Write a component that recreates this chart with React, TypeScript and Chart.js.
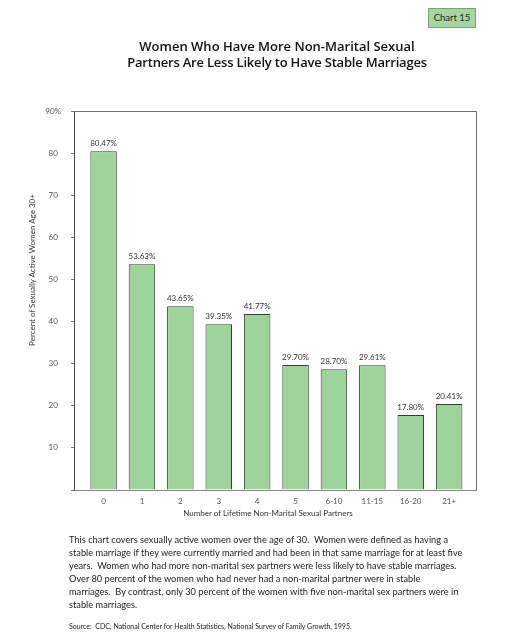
import React, { useEffect, useRef } from "react";
import { Chart, registerables } from "chart.js";

Chart.register(...registerables);

const partnerGroups = ["0", "1", "2", "3", "4", "5", "6-10", "11-15", "16-20", "21+"];
const stableShare = [80.47, 53.63, 43.65, 39.35, 41.77, 29.7, 28.7, 29.61, 17.8, 20.41];
const yTickValues = [10, 20, 30, 40, 50, 60, 70, 80, 90];

const titleLines = [
  "Women Who Have More Non-Marital Sexual",
  "Partners Are Less Likely to Have Stable Marriages",
];
const bodyLines = [
  "This chart covers sexually active women over the age of 30.  Women were defined as having a",
  "stable marriage if they were currently married and had been in that same marriage for at least five",
  "years.  Women who had more non-marital sex partners were less likely to have stable marriages.",
  "Over 80 percent of the women who had never had a non-marital partner were in stable",
  "marriages.  By contrast, only 30 percent of the women with five non-marital sex partners were in",
  "stable marriages.",
];
const sourceLine =
  "Source:  CDC, National Center for Health Statistics, National Survey of Family Growth, 1995.";

const FONT = "Lato, 'Liberation Sans', sans-serif";

// Draws the top and right frame lines plus the percentage labels over each bar.
const framePlugin = {
  id: "frameAndLabels",
  afterDatasetsDraw(chart: any) {
    const { ctx, chartArea } = chart;
    ctx.save();
    ctx.strokeStyle = "#6e6e6e";
    ctx.lineWidth = 1;
    ctx.beginPath();
    ctx.moveTo(chartArea.left, chartArea.top + 0.5);
    ctx.lineTo(chartArea.right + 0.5, chartArea.top + 0.5);
    ctx.lineTo(chartArea.right + 0.5, chartArea.bottom);
    ctx.stroke();

    const meta = chart.getDatasetMeta(0);
    ctx.fillStyle = "#333";
    ctx.font = `8px ${FONT}`;
    ctx.textAlign = "center";
    ctx.textBaseline = "bottom";
    meta.data.forEach((bar: any, i: number) => {
      ctx.fillText(stableShare[i].toFixed(2) + "%", bar.x, bar.y - 4);
    });
    ctx.restore();
  },
};

export default function App() {
  const canvasRef = useRef<HTMLCanvasElement | null>(null);

  useEffect(() => {
    if (!canvasRef.current) return;
    const chart = new Chart(canvasRef.current, {
      type: "bar",
      data: {
        datasets: [
          {
            data: stableShare.map((v, i) => ({ x: i, y: v })),
            backgroundColor: "#9fd39c",
            borderColor: "#3a3a3a",
            borderWidth: { left: 1, top: 1, right: 1, bottom: 0 },
            borderSkipped: false,
            barPercentage: 0.69,
            categoryPercentage: 1,
          },
        ],
      },
      options: {
        responsive: false,
        animation: false,
        devicePixelRatio: 1,
        layout: { padding: { top: 111, right: 38, bottom: 0, left: 0 } },
        plugins: { legend: { display: false }, tooltip: { enabled: false }, title: { display: false } },
        scales: {
          x: {
            type: "linear",
            offset: false,
            min: -0.77,
            max: 9.7,
            afterFit(scale: any) {
              scale.height = 150;
            },
            afterBuildTicks(scale: any) {
              scale.ticks = partnerGroups.map((_, i) => ({ value: i }));
            },
            border: { display: true, color: "#8a8a8a", width: 1 },
            grid: { display: false, drawTicks: false, offset: false },
            ticks: {
              autoSkip: false,
              maxRotation: 0,
              padding: 7,
              color: "#555",
              font: { family: FONT, size: 8 },
              callback: (v: any) => partnerGroups[Math.round(Number(v))] ?? "",
            },
          },
          y: {
            min: 0,
            max: 90,
            afterFit(scale: any) {
              scale.width = 74;
            },
            afterBuildTicks(scale: any) {
              scale.ticks = [{ value: 0 }, ...yTickValues.map((v) => ({ value: v }))];
            },
            border: { display: true, color: "#4a4a4a", width: 1 },
            grid: { drawOnChartArea: false, drawTicks: true, tickLength: 3, color: "#777" },
            ticks: {
              padding: 10,
              crossAlign: "center",
              color: "#555",
              font: { family: FONT, size: 8 },
              callback: (v: any) => (v === 0 ? "" : v === 90 ? "90%" : String(v)),
            },
          },
        },
      },
      plugins: [framePlugin],
    } as any);
    return () => chart.destroy();
  }, []);

  return (
    <div style={{ position: "absolute", left: 0, top: 0, width: 514, height: 640, background: "#fff", overflow: "hidden", fontFamily: FONT }}>
      <canvas ref={canvasRef} width={514} height={640} style={{ position: "absolute", left: 0, top: 0, width: 514, height: 640 }} />
      <div
        style={{
          position: "absolute", left: 428, top: 8, width: 46, height: 18,
          background: "#a6d6a3", border: "1px solid #7f9f7d", color: "#1f2a1f",
          fontSize: 9.5, lineHeight: "18px", textAlign: "center",
        }}
      >
        Chart 15
      </div>
      {titleLines.map((t, i) => (
        <div
          key={i}
          style={{
            position: "absolute", left: 0, width: 554, top: 38 + i * 16, lineHeight: "16px",
            textAlign: "center", fontFamily: "'Open Sans', sans-serif", fontWeight: 600, fontSize: 13,
            color: "#111", letterSpacing: i === 1 ? -0.2 : 0,
          }}
        >
          {t}
        </div>
      ))}
      <div
        style={{
          position: "absolute", left: 32 - 100, top: 270 - 5, width: 200, height: 10, lineHeight: "10px",
          textAlign: "center", fontSize: 8, color: "#333", transform: "rotate(-90deg)", whiteSpace: "nowrap",
        }}
      >
        Percent of Sexually Active Women Age 30+
      </div>
      <div
        style={{
          position: "absolute", left: 168, width: 200, top: 508, lineHeight: "10px",
          textAlign: "center", fontSize: 8, color: "#333", whiteSpace: "nowrap",
        }}
      >
        Number of Lifetime Non-Marital Sexual Partners
      </div>
      {bodyLines.map((t, i) => (
        <div
          key={i}
          style={{
            position: "absolute", left: 69, top: 533 + i * 13, lineHeight: "13px",
            fontSize: 10.4, color: "#222", whiteSpace: "pre",
            transform: "scaleX(0.89)", transformOrigin: "0 0",
          }}
        >
          {t}
        </div>
      ))}
      <div style={{ position: "absolute", left: 69, top: 621, lineHeight: "10px", fontSize: 7, color: "#222", whiteSpace: "pre" }}>
        {sourceLine}
      </div>
    </div>
  );
}
